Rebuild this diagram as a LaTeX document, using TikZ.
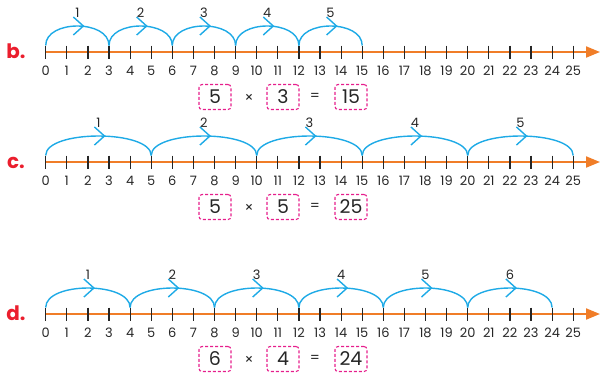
\documentclass[tikz,border=0pt]{standalone}
\usepackage{fontspec}
\setmainfont{Poppins}
\usetikzlibrary{arrows.meta}

\definecolor{axisorange}{RGB}{240,125,40}
\definecolor{jumpblue}{RGB}{30,170,230}
\definecolor{boxpink}{RGB}{230,30,140}
\definecolor{labelred}{RGB}{235,30,45}

\tikzset{
	axisline/.style={axisorange, line width=2bp, -{Triangle[length=14bp,width=11bp]}},
	tickmark/.style={black!85, line width=1.2bp},
	numlabel/.style={inner sep=0pt, font=\fontsize{13}{13}\selectfont, text=black!85},
	jump/.style={jumpblue, line width=1.4bp},
	answer/.style={draw=boxpink, dash pattern=on 3bp off 2bp, rounded corners=3bp, line width=1.1bp, minimum width=32bp, minimum height=25bp, inner sep=0pt, font=\fontsize{19}{19}\selectfont, text=black!85},
	sign/.style={inner sep=0pt, font=\fontsize{14}{14}\selectfont, text=black!85},
	rowlabel/.style={text=labelred, inner sep=0pt, font=\bfseries\fontsize{20}{20}\selectfont}
}

\begin{document}
\begin{tikzpicture}[x=1bp, y=-1bp]
	\useasboundingbox (0,0) rectangle (600,377);
	
	\foreach \row/\ay/\s/\n/\p in {b/52/3/5/15, c/162/5/5/25, d/314/4/6/24}{
		% number line
		\node[rowlabel, anchor=base] (\row) at (16,\ay+6) {\row.};
		\foreach \i in {0,...,25}{
			\coordinate (\row\i) at (45.7+21.1*\i,\ay);
			\coordinate (\row t\i) at (45.7+21.1*\i,\ay-6.5);
			\coordinate (\row b\i) at (45.7+21.1*\i,\ay+6.5);
		}
		\coordinate (\row end) at (600,\ay);
		\draw[axisline] (\row0) -- (\row end);
		\foreach \i in {0,...,25}{
			\draw[tickmark] (\row t\i) -- (\row b\i);
			\node[numlabel] (\row n\i) at (45.7+21.1*\i,\ay+19) {\i};
		}
		
		% jumps
		\foreach \j in {1,...,\n}{
			\pgfmathtruncatemacro\ja{(\j-1)*\s}
			\pgfmathtruncatemacro\jb{\j*\s}
			\pgfmathsetmacro\mx{45.7+21.1*(\ja+\jb)/2}
			\draw[jump] (\row t\ja) .. controls +(0,-26) and +(0,-26) .. (\row t\jb);
			\draw[jump] (\mx-4,\ay-35) -- (\mx+6,\ay-26) -- (\mx-4,\ay-17);
			\node[numlabel] (\row j\j) at (\mx,\ay-39) {\j};
		}
		
		% answer
		\node[answer] (\row f1) at (215,\ay+45) {\n};
		\node[sign] (\row x) at (249,\ay+46) {×};
		\node[answer] (\row f2) at (283,\ay+45) {\s};
		\node[sign] (\row q) at (315,\ay+45) {=};
		\node[answer] (\row f3) at (351,\ay+45) {\p};
	}
\end{tikzpicture}
\end{document}
